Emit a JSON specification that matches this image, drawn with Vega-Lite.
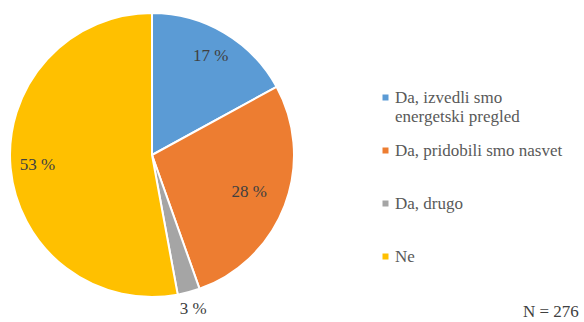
{
  "$schema": "https://vega.github.io/schema/vega-lite/v6.json",
  "width": 304,
  "height": 310,
  "autosize": {"type": "none"},
  "padding": {"left": 0, "top": 0, "right": 280, "bottom": 12},
  "background": "white",
  "config": {"view": {"stroke": null}, "font": "Liberation Serif"},
  "title": {"text": "N = 276", "orient": "bottom", "anchor": "start", "align": "left", "offset": -6, "dy": -7, "dx": 523, "fontSize": 17, "fontWeight": "normal", "color": "#404040", "font": "Liberation Serif"},
  "data": {"values": [
    {"k": 1, "cat": "Da, izvedli smo energetski pregled", "n": 47, "lab": "17 %", "pos": "in"},
    {"k": 2, "cat": "Da, pridobili smo nasvet", "n": 76, "lab": "28 %", "pos": "in"},
    {"k": 3, "cat": "Da, drugo", "n": 7, "lab": "3 %", "pos": "out"},
    {"k": 4, "cat": "Ne", "n": 146, "lab": "53 %", "pos": "in"}
  ]},
  "encoding": {
    "theta": {"field": "n", "type": "quantitative", "stack": true},
    "order": {"field": "k", "type": "quantitative"}
  },
  "layer": [
    {
      "mark": {"type": "arc", "outerRadius": 142, "stroke": "white", "strokeWidth": 2},
      "encoding": {
        "color": {
          "field": "cat", "type": "nominal",
          "scale": {"domain": ["Da, izvedli smo energetski pregled", "Da, pridobili smo nasvet", "Da, drugo", "Ne"], "range": ["#5B9BD5", "#ED7D31", "#A5A5A5", "#FFC000"]},
          "legend": {
            "title": null, "orient": "none", "legendX": 377, "legendY": 89,
            "symbolType": "square", "symbolSize": 36, "symbolStrokeWidth": 0,
            "labelFont": "Liberation Serif", "labelFontSize": 17, "labelColor": "#595959",
            "labelLimit": 300, "rowPadding": 16, "labelOffset": 1, "labelBaseline": "middle",
            "labelExpr": "datum.label == 'Da, izvedli smo energetski pregled' ? ['Da, izvedli smo', 'energetski pregled'] : [datum.label, '']"
          }
        }
      }
    },
    {
      "mark": {"type": "text", "radius": {"expr": "datum.pos == 'out' ? 159 : datum.k == 2 ? 104 : 115"}, "font": "Liberation Serif", "fontSize": 17, "color": "#404040"},
      "encoding": {"text": {"field": "lab"}}
    }
  ]
}
